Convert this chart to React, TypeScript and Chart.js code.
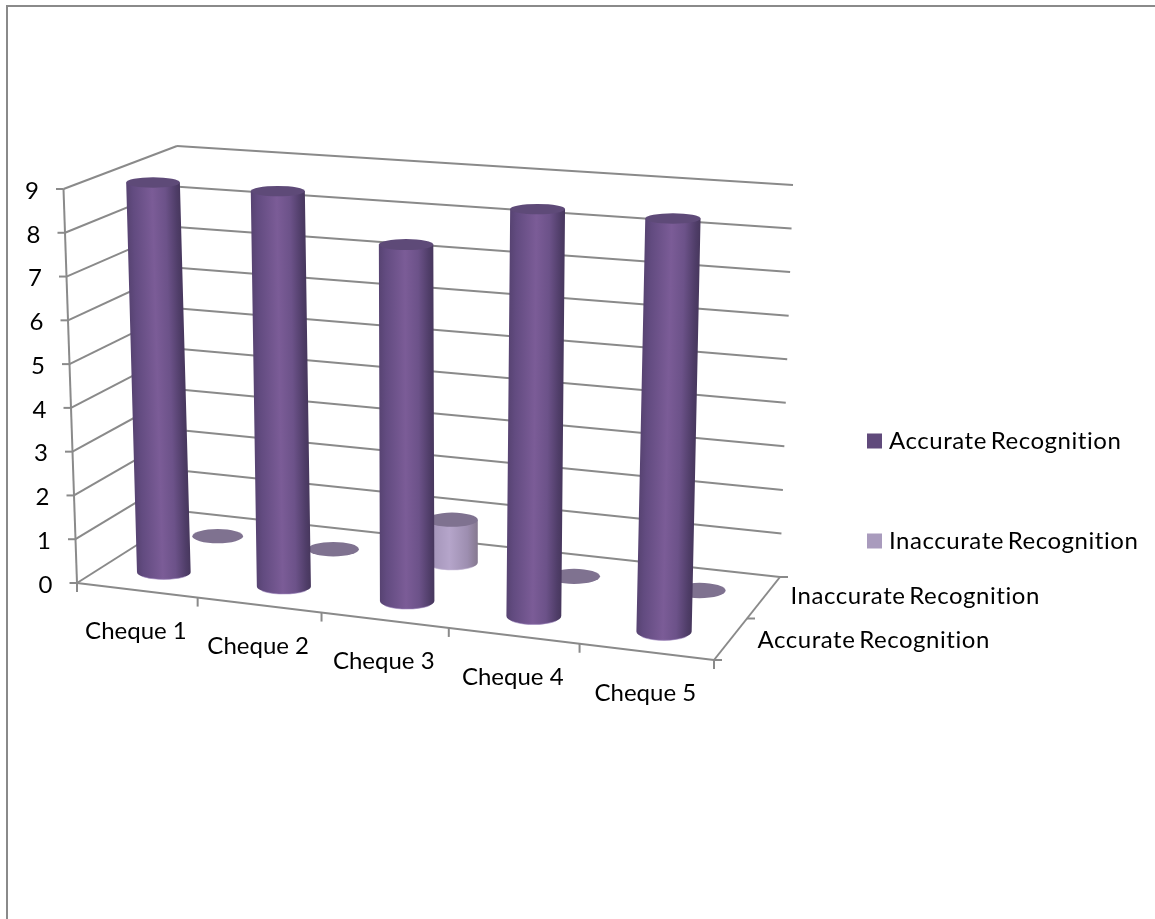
import React, { useEffect, useRef } from "react";
import { Chart, registerables } from "chart.js";

Chart.register(...registerables);

const categories = ["Cheque 1", "Cheque 2", "Cheque 3", "Cheque 4", "Cheque 5"];
const seriesNames = ["Accurate Recognition", "Inaccurate Recognition"];
const accurate = [9, 9, 8, 9, 9];
const inaccurate = [0, 0, 1, 0, 0];
const valueMax = 9;

const GRID = "#8a8a8a";
const FONT = '24px Lato, "Open Sans", sans-serif';
const WIDTH = 1155;
const HEIGHT = 919;

// Screen positions of the eight corners of the chart's 3D box.
const box = {
  floor: { fl: [77, 583], fr: [714, 660], bl: [189, 512], br: [780, 577] },
  roof: { fl: [63.5, 189], fr: [725, 236], bl: [177, 146], br: [793, 185] },
};
const categoryPerspective = 1.07;
const depthSlots = [0.25, 0.75];

const lerp = (a: number, b: number, t: number) => a + (b - a) * t;
const warp = (u: number) => u / (categoryPerspective - (categoryPerspective - 1) * u);

function corner(p: any, u: number, t: number): [number, number] {
  const w = warp(u);
  return [
    lerp(lerp(p.fl[0], p.fr[0], w), lerp(p.bl[0], p.br[0], w), t),
    lerp(lerp(p.fl[1], p.fr[1], w), lerp(p.bl[1], p.br[1], w), t),
  ];
}

// Maps category position u, depth t and height v (all 0..1) onto the page.
function project(u: number, t: number, v: number): [number, number] {
  const a = corner(box.floor, u, t);
  const b = corner(box.roof, u, t);
  return [lerp(a[0], b[0], v), lerp(a[1], b[1], v)];
}

const seriesStyle = [
  {
    swatch: "#604a7b",
    cap: "#5e4a78",
    rim: "#9b84bb",
    body: [
      [0, "#574372"],
      [0.12, "#624b80"],
      [0.48, "#7b5c97"],
      [0.72, "#6c5289"],
      [0.92, "#4f3d68"],
      [1, "#47375d"],
    ],
  },
  {
    swatch: "#a99bbd",
    cap: "#7f7290",
    rim: "#c4b7d6",
    body: [
      [0, "#9e8fb3"],
      [0.45, "#b5a5ca"],
      [0.8, "#9d8eb0"],
      [1, "#85788f"],
    ],
  },
];

function drawCylinder(ctx: CanvasRenderingContext2D, u: number, t: number, v: number, s: number) {
  const style = seriesStyle[s];
  const base = project(u, t, 0);
  const top = project(u, t, v);
  const w = warp(u);
  const rx = 24.5 + 3 * (1 - t) + w;
  const baseRy = 7 + 3 * w * (1 - t);
  const topRy = lerp(baseRy, 5.2, v);

  if (v > 0) {
    const lean = (top[0] - base[0]) / (top[1] - base[1]);
    ctx.save();
    ctx.beginPath();
    ctx.moveTo(top[0] - rx, top[1]);
    ctx.lineTo(base[0] - rx, base[1]);
    ctx.ellipse(base[0], base[1], rx, baseRy, 0, Math.PI, 0, true);
    ctx.lineTo(top[0] + rx, top[1]);
    ctx.closePath();
    // The shear keeps the shading parallel to the leaning sides.
    ctx.transform(1, 0, lean, 1, -lean * base[1], 0);
    const g = ctx.createLinearGradient(base[0] - rx, 0, base[0] + rx, 0);
    style.body.forEach(([o, c]) => g.addColorStop(o as number, c as string));
    ctx.fillStyle = g;
    ctx.fill();
    ctx.restore();

    ctx.beginPath();
    ctx.ellipse(base[0], base[1], rx, baseRy, 0, Math.PI * 0.8, Math.PI * 0.2, true);
    ctx.strokeStyle = style.rim;
    ctx.globalAlpha = 0.6;
    ctx.lineWidth = 1;
    ctx.stroke();
    ctx.globalAlpha = 1;
  }
  ctx.beginPath();
  ctx.ellipse(top[0], top[1], rx, topRy, 0, 0, Math.PI * 2);
  ctx.fillStyle = style.cap;
  ctx.fill();
}

function segment(ctx: CanvasRenderingContext2D, a: number[], b: number[]) {
  ctx.beginPath();
  ctx.moveTo(a[0], a[1]);
  ctx.lineTo(b[0], b[1]);
  ctx.stroke();
}

// Series names run slightly wider with a tighter gap between the two words.
function seriesText(ctx: any, name: string, x: number, y: number) {
  ctx.letterSpacing = "0.55px";
  ctx.wordSpacing = "-3px";
  ctx.fillText(name, x, y);
  ctx.letterSpacing = "0px";
  ctx.wordSpacing = "0px";
}

const chart3d = {
  id: "chart3d",
  beforeDraw(chart: any) {
    const { ctx } = chart;
    ctx.save();
    ctx.fillStyle = "#ffffff";
    ctx.fillRect(0, 0, WIDTH, HEIGHT);
    // Outer chart border: only its top and left edges fall inside the page.
    ctx.fillStyle = GRID;
    ctx.fillRect(6, 5, WIDTH - 6, 2);
    ctx.fillRect(6, 5, 2, HEIGHT - 5);

    const yScale = chart.scales.y;
    const area = chart.chartArea;
    ctx.strokeStyle = GRID;
    ctx.lineWidth = 2;
    ctx.font = FONT;
    ctx.fillStyle = "#000000";

    // Walls, value axis and value labels.
    yScale.ticks.forEach((tick: any) => {
      const v = (area.bottom - yScale.getPixelForValue(tick.value)) / area.height;
      const front = project(0, 0, v);
      const corner2 = project(0, 1, v);
      const right = project(1, 1, v);
      segment(ctx, front, corner2);
      segment(ctx, corner2, right);
      segment(ctx, [front[0] - 7.5, front[1]], front);
      ctx.textAlign = "center";
      ctx.textBaseline = "middle";
      ctx.fillText(String(tick.value), front[0] - 31.5, front[1] + 2);
    });
    segment(ctx, project(0, 0, 0), project(0, 0, 1));

    // Floor edges.
    segment(ctx, project(0, 0, 0), project(1, 0, 0));
    segment(ctx, project(1, 0, 0), project(1, 1, 0));

    // Category ticks and labels.
    categories.forEach((_, i) => {
      const p = project(i / categories.length, 0, 0);
      segment(ctx, p, [p[0], p[1] + 9]);
    });
    const end = project(1, 0, 0);
    segment(ctx, end, [end[0], end[1] + 9]);
    const xScale = chart.scales.x;
    categories.forEach((name, i) => {
      const u = (xScale.getPixelForValue(i) - area.left) / area.width;
      const p = project(u, 0, 0);
      ctx.textAlign = "center";
      ctx.fillText(name, p[0] - 1, p[1] + 41);
    });

    // Depth axis ticks and labels.
    [0, 0.5, 1].forEach((t) => {
      const p = project(1, t, 0);
      segment(ctx, p, [p[0] + 8, p[1]]);
    });
    ctx.textAlign = "left";
    seriesNames.forEach((name, s) => {
      const p = project(1, depthSlots[s], 0);
      seriesText(ctx, name, p[0] + 27, p[1] + (s === 0 ? 1 : -1));
    });

    // Legend.
    const legendRows = [441, 541];
    seriesNames.forEach((name, s) => {
      ctx.fillStyle = seriesStyle[s].swatch;
      ctx.fillRect(867, legendRows[s] - 7.5, 15, 15);
      ctx.fillStyle = "#000000";
      seriesText(ctx, name, 889, legendRows[s]);
    });
    ctx.restore();
  },
  // Bars are painted in the box's projection, back row first, from the bar elements' positions.
  beforeDatasetsDraw(chart: any) {
    const { ctx, chartArea: area } = chart;
    [1, 0].forEach((s) => {
      chart.getDatasetMeta(s).data.forEach((bar: any) => {
        const u = (bar.x - area.left) / area.width;
        const v = (area.bottom - bar.y) / area.height;
        drawCylinder(ctx, u, depthSlots[s], v, s);
      });
    });
    return false;
  },
};

export default function App() {
  const ref = useRef<HTMLCanvasElement | null>(null);
  useEffect(() => {
    document.body.style.margin = "0";
    const chart = new Chart(ref.current as HTMLCanvasElement, {
      type: "bar",
      data: {
        labels: categories,
        datasets: [
          { label: seriesNames[0], data: accurate, backgroundColor: seriesStyle[0].swatch, grouped: false },
          { label: seriesNames[1], data: inaccurate, backgroundColor: seriesStyle[1].swatch, grouped: false },
        ],
      },
      options: {
        responsive: false,
        animation: false,
        layout: {
          padding: { left: box.floor.fl[0], right: WIDTH - box.floor.fr[0], top: box.roof.fl[1], bottom: HEIGHT - box.floor.fl[1] },
        },
        plugins: { legend: { display: false }, tooltip: { enabled: false } },
        scales: {
          x: { display: false, type: "category" },
          y: { display: false, min: 0, max: valueMax, ticks: { stepSize: 1 } },
        },
      },
      plugins: [chart3d],
    } as any);
    return () => chart.destroy();
  }, []);
  return <canvas ref={ref} width={WIDTH} height={HEIGHT} style={{ display: "block" }} />;
}
